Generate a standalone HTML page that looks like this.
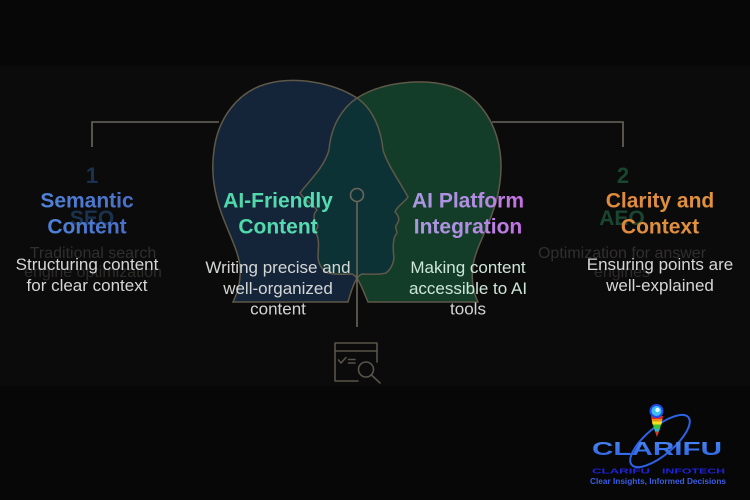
<!DOCTYPE html>
<html>
<head>
<meta charset="utf-8">
<style>
  html, body { margin: 0; padding: 0; background: #070707; }
  body { width: 750px; height: 500px; overflow: hidden; }
  svg { display: block; }
  text { font-family: "Liberation Sans", Arial, sans-serif; }
</style>
</head>
<body>
<svg width="750" height="500" viewBox="0 0 750 500" xmlns="http://www.w3.org/2000/svg">
  <defs>
    <path id="blueHead" d="M 233 302
      C 238 292, 241 280, 240 266
      C 238 250, 228 232, 221 212
      C 214 192, 211 170, 214 150
      C 218 118, 238 92, 266 84
      C 294 76, 332 82, 357 98
      C 372 108, 381 128, 383 150
      C 388 166, 400 182, 408 197
      C 404 203, 397 206, 395 212
      C 399 216, 400 220, 397 224
      C 394 227, 397 230, 397 233
      C 392 238, 393 250, 394 258
      C 393 265, 390 270, 386 273
      C 378 275, 368 274, 362 274
      C 356 276, 352 288, 348 302 Z"/>
    <path id="greenHead" d="M 478 302
      C 473 292, 471 280, 473 266
      C 475 250, 486 232, 492 214
      C 499 196, 503 172, 500 152
      C 496 122, 478 94, 450 86
      C 422 78, 382 82, 357 98
      C 342 108, 331 126, 329 150
      C 324 168, 308 182, 300 193
      C 304 200, 313 204, 317 210
      C 313 214, 313 219, 317 224
      C 320 227, 314 230, 316 233
      C 320 240, 318 250, 318 258
      C 319 265, 322 270, 328 273
      C 336 275, 346 274, 352 274
      C 358 276, 362 288, 368 302 Z"/>
    <clipPath id="clipBlue"><use href="#blueHead"/></clipPath>
    <linearGradient id="gSem" x1="0" y1="0" x2="1" y2="0">
      <stop offset="0" stop-color="#4e82d8"/><stop offset="1" stop-color="#4a6fc8"/>
    </linearGradient>
    <linearGradient id="gAIF" x1="0" y1="0" x2="1" y2="0">
      <stop offset="0" stop-color="#4fd8a8"/><stop offset="1" stop-color="#56dcb2"/>
    </linearGradient>
    <linearGradient id="gPlat" x1="0" y1="0" x2="1" y2="0">
      <stop offset="0" stop-color="#a898e0"/><stop offset="0.6" stop-color="#b48ce2"/><stop offset="1" stop-color="#c46ee2"/>
    </linearGradient>
    <linearGradient id="gClar" x1="0" y1="0" x2="1" y2="0">
      <stop offset="0" stop-color="#de8a3e"/><stop offset="1" stop-color="#e0923c"/>
    </linearGradient>
    <linearGradient id="gLogo" x1="0" y1="0" x2="0" y2="1">
      <stop offset="0" stop-color="#4a8af8"/><stop offset="1" stop-color="#2f62e0"/>
    </linearGradient>
  </defs>

  <!-- panel background -->
  <rect x="0" y="66" width="750" height="320" fill="#0c0b0b"/>

  <!-- connectors -->
  <path d="M 92 147 V 122 H 219" fill="none" stroke="#6a665c" stroke-width="1.6"/>
  <path d="M 492 122 H 623 V 147" fill="none" stroke="#6a665c" stroke-width="1.6"/>

  <!-- heads -->
  <use href="#blueHead" fill="#152539"/>
  <use href="#greenHead" fill="#133d29"/>
  <use href="#greenHead" fill="#0d3236" clip-path="url(#clipBlue)"/>
  <use href="#blueHead" fill="none" stroke="#5e5848" stroke-width="1.5"/>
  <use href="#greenHead" fill="none" stroke="#5e5848" stroke-width="1.5"/>

  <!-- central line and circle -->
  <circle cx="357" cy="195" r="6.5" fill="none" stroke="#6a665c" stroke-width="1.6"/>
  <line x1="357" y1="201.5" x2="357" y2="327" stroke="#6a665c" stroke-width="1.6"/>

  <!-- icon -->
  <g fill="none" stroke="#58544b" stroke-width="1.6" stroke-linecap="round" stroke-linejoin="round">
    <path d="M 377 362 V 343 H 335 V 381 H 358"/>
    <line x1="335" y1="351" x2="377" y2="351"/>
    <path d="M 338.5 360 L 341 363 L 346 357.5"/>
    <line x1="348.5" y1="359.5" x2="355" y2="359.5"/>
    <line x1="348.5" y1="363" x2="355" y2="363"/>
    <circle cx="366" cy="369.5" r="7.5"/>
    <line x1="371.5" y1="375" x2="380" y2="383"/>
  </g>

  <!-- faded background texts -->
  <g text-anchor="middle">
    <text x="92" y="183" font-size="22" font-weight="700" fill="#1a3250">1</text>
    <text x="92" y="225" font-size="21" font-weight="700" fill="#1a3250">SEO</text>
    <text x="93" y="258" font-size="16" fill="#302f2e">Traditional search</text>
    <text x="93" y="277" font-size="16" fill="#2c2b2a">engine optimization</text>
    <text x="623" y="183" font-size="22" font-weight="700" fill="#184630">2</text>
    <text x="622" y="225" font-size="21" font-weight="700" fill="#184630">AEO</text>
    <text x="622" y="258" font-size="16" fill="#302f2e">Optimization for answer</text>
    <text x="622" y="277" font-size="16" fill="#2c2b2a">engines</text>
  </g>

  <!-- titles -->
  <g text-anchor="middle" font-size="21" font-weight="700">
    <text x="87" y="207.5" fill="url(#gSem)">Semantic</text>
    <text x="87" y="233.5" fill="url(#gSem)">Content</text>
    <text x="278" y="207.5" fill="url(#gAIF)">AI-Friendly</text>
    <text x="278" y="233.5" fill="url(#gAIF)">Content</text>
    <text x="468" y="207.5" fill="url(#gPlat)">AI Platform</text>
    <text x="468" y="233.5" fill="url(#gPlat)">Integration</text>
    <text x="660" y="207.5" fill="url(#gClar)">Clarity and</text>
    <text x="660" y="233.5" fill="url(#gClar)">Context</text>
  </g>

  <!-- descriptions -->
  <g text-anchor="middle" font-size="17">
    <text x="87" y="270" fill="#d6d6d6">Structuring content</text>
    <text x="87" y="291" fill="#d6d6d6">for clear context</text>
    <text x="278" y="273" fill="#d4d6d6">Writing precise and</text>
    <text x="278" y="294" fill="#d4d6d6">well-organized</text>
    <text x="278" y="314.5" fill="#d4d4d4">content</text>
    <text x="468" y="273" fill="#cde6d8">Making content</text>
    <text x="468" y="294" fill="#cde6d8">accessible to AI</text>
    <text x="468" y="314.5" fill="#d4d4d4">tools</text>
    <text x="660" y="270" fill="#d6d6d6">Ensuring points are</text>
    <text x="660" y="291" fill="#d6d6d6">well-explained</text>
  </g>

  <!-- logo -->
  <g>
    <ellipse cx="660" cy="441" rx="37" ry="14" transform="rotate(-40 660 441)" fill="none" stroke="#2c62e6" stroke-width="2"/>
    <!-- bands -->
    <path d="M 651 416 H 663 L 662.5 419 H 651.5 Z" fill="#e02a20"/>
    <path d="M 651.5 419 H 662.5 L 662 421.5 H 652 Z" fill="#f08a1c"/>
    <path d="M 652 421.5 H 662 L 661.5 424.5 H 652.5 Z" fill="#f2e21e"/>
    <path d="M 653 424.5 H 661 L 660 428.5 H 654 Z" fill="#3cc43a"/>
    <path d="M 654 428.5 H 660 L 659 431.5 H 655 Z" fill="#2ab8c8"/>
    <path d="M 655 431.5 H 659 L 657 437 Z" fill="#d83a28"/>
    <!-- globe -->
    <circle cx="656.5" cy="411" r="7" fill="#2448ee"/>
    <circle cx="656.5" cy="411" r="5" fill="#3cc0f0"/>
    <circle cx="657.5" cy="410" r="2.2" fill="#e8f8ff"/>
    <text x="657" y="455" text-anchor="middle" font-size="18.5" font-weight="700" fill="url(#gLogo)" textLength="130" lengthAdjust="spacingAndGlyphs">CLARIFU</text>
    <text x="592" y="473.5" font-size="7" font-weight="700" fill="#1e22d8" textLength="58" lengthAdjust="spacingAndGlyphs">CLARIFU</text>
    <text x="662" y="473.5" font-size="7" font-weight="700" fill="#1e22d8" textLength="63" lengthAdjust="spacingAndGlyphs">INFOTECH</text>
    <text x="658" y="484" text-anchor="middle" font-size="8.5" font-weight="700" fill="#3a5ee2" textLength="136" lengthAdjust="spacingAndGlyphs">Clear Insights, Informed Decisions</text>
  </g>
</svg>
</body>
</html>
